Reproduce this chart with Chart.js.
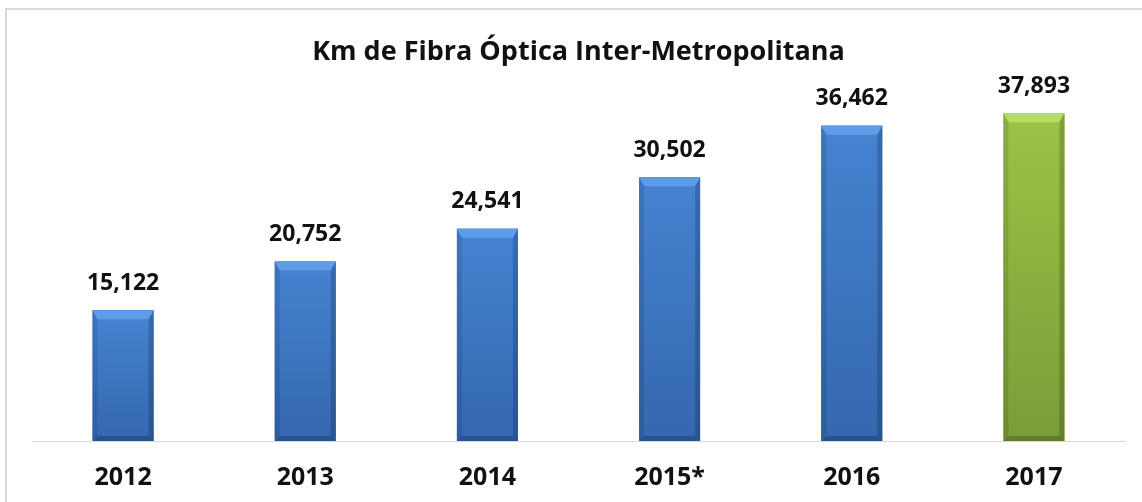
<!DOCTYPE html>
<html>
<head>
<meta charset="utf-8">
<script src="https://cdn.jsdelivr.net/npm/chart.js@4"></script>
<style>
  body { margin: 0; background: #fff; overflow: hidden; }
  #frame { position: absolute; left: 5px; top: 8px; width: 1200px; height: 600px; border: 2px solid #d9d9d9; }
  #wrap { position: absolute; left: 0; top: 0; width: 1142px; height: 525px; }
</style>
</head>
<body>
<div id="frame"></div>
<div id="wrap"><canvas id="myChart"></canvas></div>
<script>
let years = ['2012', '2013', '2014', '2015*', '2016', '2017'];
let km = [15122, 20752, 24541, 30502, 36462, 37893];
let barColors = ['#4683d2', '#4683d2', '#4683d2', '#4683d2', '#4683d2', '#9cc446'];
let lightColors = ['#5e9ce8', '#5e9ce8', '#5e9ce8', '#5e9ce8', '#5e9ce8', '#b6db6a'];
let darkColors = ['#3467ae', '#3467ae', '#3467ae', '#3467ae', '#3467ae', '#7a9c38'];

// bevel look + value labels over each bar
let barExtras = {
  id: 'barExtras',
  afterDatasetsDraw(chart) {
    let ctx = chart.ctx;
    let meta = chart.getDatasetMeta(0);
    meta.data.forEach(function (bar, i) {
      let l = bar.x - bar.width / 2;
      let r = bar.x + bar.width / 2;
      let t = bar.y;
      let b = bar.base;
      let bt = 9, bs = 5;
      ctx.save();
      // body gradient
      let g = ctx.createLinearGradient(0, t, 0, b);
      g.addColorStop(0, barColors[i]);
      g.addColorStop(1, darkColors[i]);
      ctx.fillStyle = g;
      ctx.fillRect(l, t, r - l, b - t);
      // top bevel
      ctx.fillStyle = lightColors[i];
      ctx.beginPath();
      ctx.moveTo(l, t); ctx.lineTo(r, t); ctx.lineTo(r - bs, t + bt); ctx.lineTo(l + bs, t + bt);
      ctx.closePath(); ctx.fill();
      // sides
      ctx.fillStyle = 'rgba(0,0,0,0.10)';
      ctx.beginPath();
      ctx.moveTo(l, t); ctx.lineTo(l + bs, t + bt); ctx.lineTo(l + bs, b - bs); ctx.lineTo(l, b);
      ctx.closePath(); ctx.fill();
      ctx.fillStyle = 'rgba(0,0,0,0.18)';
      ctx.beginPath();
      ctx.moveTo(r, t); ctx.lineTo(r - bs, t + bt); ctx.lineTo(r - bs, b - bs); ctx.lineTo(r, b);
      ctx.closePath(); ctx.fill();
      // bottom
      ctx.fillStyle = 'rgba(0,0,0,0.2)';
      ctx.beginPath();
      ctx.moveTo(l, b); ctx.lineTo(l + bs, b - bs); ctx.lineTo(r - bs, b - bs); ctx.lineTo(r, b);
      ctx.closePath(); ctx.fill();
      // value
      ctx.fillStyle = '#111';
      ctx.font = 'bold 23px "Open Sans"';
      ctx.textAlign = 'center';
      ctx.textBaseline = 'middle';
      ctx.fillText(km[i].toLocaleString('en-US'), bar.x, t - 27);
      ctx.restore();
    });
  }
};

let myChart = new Chart(document.getElementById('myChart'), {
  type: 'bar',
  data: {
    labels: years,
    datasets: [{
      label: 'Km',
      data: km,
      backgroundColor: barColors,
      borderWidth: 0,
      barPercentage: 0.67,
      categoryPercentage: 0.5
    }]
  },
  options: {
    responsive: true,
    maintainAspectRatio: false,
    animation: false,
    layout: { padding: { left: 32, right: 17, top: 0, bottom: 10 } },
    plugins: {
      legend: { display: false },
      tooltip: { enabled: false },
      title: {
        display: true,
        text: 'Km de Fibra Óptica Inter-Metropolitana',
        color: '#111',
        font: { family: 'Open Sans', size: 27, weight: 'bold' },
        padding: { top: 36, bottom: 18 }
      }
    },
    scales: {
      x: {
        grid: { display: false, drawTicks: false },
        border: { display: true, color: '#d9d9d9', width: 1 },
        ticks: { color: '#111', padding: 22, font: { family: 'Open Sans', size: 25, weight: 'bold' } }
      },
      y: {
        display: false,
        min: 0,
        max: 41000
      }
    }
  },
  plugins: [barExtras]
});
</script>
</body>
</html>
